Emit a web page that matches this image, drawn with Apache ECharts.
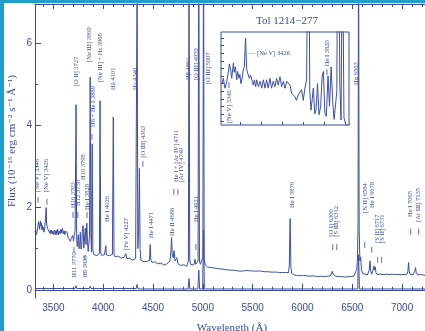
<!DOCTYPE html>
<html>
<head>
<meta charset="utf-8">
<script src="https://cdn.jsdelivr.net/npm/echarts@6/dist/echarts.min.js"></script>
<style>
html,body{margin:0;padding:0;background:#fff;}
#chart{width:425px;height:331px;}
</style>
</head>
<body>
<div id="chart"></div>
<script>
// spectrum of Tol 1214-277, [wavelength (A), flux]
var specMain = [
  [3316,1.40],[3321,1.47],[3329,1.34],[3337,1.42],[3345,1.55],[3350,1.66],[3356,1.58],[3361,1.47],
  [3369,1.67],[3373,1.55],[3378,1.62],[3385,1.45],[3389,1.56],[3396,1.47],[3400,1.52],[3405,1.40],
  [3412,1.49],[3416,1.58],[3421,1.62],[3427,2.00],[3432,1.60],[3437,1.54],[3445,1.47],[3451,1.51],
  [3459,1.43],[3464,1.38],[3469,1.45],[3475,1.36],[3480,1.45],[3488,1.36],[3496,1.43],[3504,1.34],
  [3512,1.45],[3520,1.34],[3527,1.45],[3535,1.34],[3543,1.47],[3551,1.34],[3559,1.43],[3567,1.36],
  [3575,1.47],[3583,1.38],[3591,1.49],[3599,1.36],[3607,1.43],[3615,1.34],[3623,1.43],[3631,1.41],
  [3639,1.38],[3647,1.27],[3654,1.29],[3662,1.23],[3670,1.18],[3678,1.25],[3686,1.23],[3694,1.32],
  [3702,1.18],[3710,1.34],[3718,1.45],[3727,4.50],[3733,1.30],[3739,1.05],[3745,1.20],[3750,1.34],
  [3757,1.00],[3763,1.05],[3770,1.40],[3777,0.99],[3785,1.10],[3792,1.50],[3798,1.56],[3805,1.01],
  [3812,0.97],[3820,1.50],[3827,1.10],[3835,1.62],[3842,1.18],[3849,0.93],[3855,0.95],[3862,1.30],
  [3869,5.17],[3876,1.40],[3882,0.92],[3889,3.55],[3896,0.95],[3905,0.86],[3915,0.84],[3925,0.88],
  [3935,0.83],[3945,0.86],[3955,0.84],[3962,0.88],[3968,4.60],[3975,0.90],[3982,0.84],[3992,0.87],
  [4002,0.82],[4012,0.85],[4020,0.84],[4026,1.07],[4032,0.85],[4042,0.82],[4052,0.86],[4062,0.83],
  [4072,0.85],[4082,0.81],[4092,0.86],[4101,4.20],[4108,0.86],[4118,0.80],[4128,0.83],[4138,0.79],
  [4148,0.82],[4158,0.78],[4168,0.81],[4178,0.77],[4188,0.80],[4198,0.76],[4208,0.79],[4218,0.77],
  [4227,0.88],[4235,0.76],[4245,0.78],[4255,0.74],[4265,0.77],[4275,0.73],[4285,0.76],[4295,0.72],
  [4305,0.75],[4315,0.73],[4325,0.76],[4333,0.78],[4340,7.50],[4347,1.00],[4355,1.40],[4363,2.95],
  [4370,1.00],[4378,0.72],[4388,0.69],[4398,0.72],[4408,0.68],[4418,0.70],[4428,0.66],[4438,0.69],
  [4448,0.67],[4458,0.70],[4465,0.72],[4471,1.10],[4478,0.72],[4488,0.67],[4498,0.69],[4508,0.65],
  [4518,0.68],[4528,0.64],[4538,0.67],[4548,0.63],[4558,0.66],[4568,0.62],[4578,0.65],[4588,0.61],
  [4598,0.64],[4608,0.60],[4618,0.63],[4628,0.61],[4638,0.63],[4648,0.60],[4658,0.66],[4670,0.70],
  [4680,0.95],[4686,1.27],[4693,0.85],[4702,0.78],[4711,0.95],[4720,0.70],[4732,0.68],[4740,0.78],
  [4748,0.64],[4758,0.61],[4768,0.63],[4778,0.59],[4788,0.62],[4798,0.58],[4808,0.61],[4818,0.58],
  [4828,0.60],[4838,0.57],[4848,0.60],[4855,0.70],[4861,8.00],[4868,0.75],[4876,0.62],[4886,0.60],
  [4896,0.63],[4906,0.60],[4915,0.65],[4921,0.74],[4928,0.62],[4938,0.61],[4946,0.64],[4952,0.70],
  [4959,9.00],[4966,0.70],[4975,0.62],[4985,0.63],[4995,0.66],[5000,0.80],[5007,9.00],[5013,0.75],
  [5018,0.70],[5025,0.60],[5035,0.57],[5050,0.55],[5065,0.58],[5080,0.54],[5095,0.56],[5110,0.53],
  [5125,0.56],[5140,0.52],[5155,0.55],[5170,0.51],[5185,0.54],[5200,0.50],[5215,0.53],[5230,0.49],
  [5245,0.52],[5260,0.48],[5275,0.51],[5290,0.48],[5305,0.50],[5320,0.47],[5335,0.50],[5350,0.46],
  [5365,0.49],[5380,0.45],[5395,0.48],[5410,0.46],[5425,0.43],[5440,0.47],[5455,0.44],[5470,0.46],
  [5485,0.43],[5500,0.46],[5515,0.42],[5530,0.45],[5545,0.43],[5560,0.46],[5575,0.42],[5590,0.45],
  [5605,0.42],[5620,0.44],[5635,0.41],[5650,0.44],[5665,0.41],[5680,0.43],[5695,0.40],[5710,0.43],
  [5725,0.40],[5740,0.43],[5755,0.40],[5770,0.42],[5785,0.39],[5800,0.42],[5815,0.40],[5830,0.42],
  [5845,0.39],[5860,0.42],[5868,0.60],[5876,1.73],[5884,0.55],[5892,0.40],[5905,0.38],[5920,0.36],
  [5935,0.39],[5950,0.35],[5965,0.38],[5980,0.34],[5995,0.37],[6010,0.35],[6025,0.38],[6040,0.34],
  [6055,0.36],[6070,0.33],[6085,0.37],[6100,0.34],[6115,0.36],[6130,0.33],[6145,0.36],[6160,0.32],
  [6175,0.35],[6190,0.33],[6205,0.36],[6220,0.32],[6235,0.35],[6250,0.33],[6265,0.36],[6280,0.34],
  [6292,0.38],[6300,0.45],[6306,0.38],[6312,0.42],[6320,0.35],[6335,0.33],[6350,0.36],[6365,0.32],
  [6380,0.35],[6395,0.32],[6410,0.35],[6425,0.31],[6440,0.34],[6455,0.32],[6470,0.35],[6485,0.32],
  [6500,0.34],[6515,0.33],[6530,0.36],[6545,0.50],[6552,0.75],[6558,1.60],[6563,9.00],[6569,1.50],
  [6576,0.70],[6584,0.80],[6592,0.50],[6602,0.40],[6615,0.36],[6628,0.38],[6640,0.35],[6652,0.36],
  [6662,0.38],[6670,0.48],[6678,0.70],[6686,0.45],[6695,0.38],[6706,0.40],[6712,0.50],[6717,0.58],
  [6724,0.48],[6731,0.55],[6738,0.42],[6750,0.37],[6765,0.35],[6780,0.38],[6795,0.34],[6810,0.37],
  [6825,0.35],[6840,0.38],[6855,0.34],[6870,0.37],[6885,0.35],[6900,0.38],[6915,0.34],[6930,0.37],
  [6945,0.35],[6960,0.37],[6975,0.34],[6990,0.37],[7005,0.35],[7020,0.37],[7035,0.34],[7050,0.38],
  [7058,0.45],[7065,0.66],[7072,0.44],[7082,0.37],[7095,0.35],[7110,0.37],[7122,0.38],[7128,0.45],
  [7135,0.54],[7142,0.42],[7155,0.36],[7170,0.35],[7185,0.37],[7200,0.34],[7215,0.36],[7230,0.35]
];

// same spectrum scaled down
var specScaled = [
  [3316,0.03],[3718,0.03],[3727,0.10],[3735,0.03],[3861,0.03],[3869,0.09],[3878,0.03],[3889,0.05],
  [3898,0.03],[3960,0.03],[3968,0.07],[3976,0.03],[4093,0.03],[4101,0.07],[4109,0.03],[4332,0.03],
  [4340,0.13],[4348,0.03],[4363,0.04],[4372,0.02],[4852,0.02],[4861,0.27],[4870,0.02],[4950,0.02],
  [4959,0.48],[4967,0.02],[4998,0.02],[5007,1.45],[5015,0.02],[5868,0.02],[5876,0.05],[5884,0.02],
  [6554,0.02],[6563,0.85],[6572,0.02],[7230,0.02]
];

// line identifications: [wavelength, flux at label start, text]
var lineLabels = [
  [3335,2.38,'[Ne V] 3346'],[3425,2.38,'[Ne V] 3426'],[3696,1.99,'H16 3703'],[3746,2.04,'H12 3750'],
  [3796,2.67,'H10 3798'],[3837,1.94,'He I 3820'],[3726,4.95,'[O II] 3727'],[3857,5.54,'[Ne III] 3869'],
  [3897,3.96,'H8 + He I 3889'],[3967,5.05,'[Ne III] + Hε 3968'],[4097,4.86,'Hδ 4101'],
  [4318,4.86,'Hγ 4340'],[4398,3.21,'[O III] 4363'],[4037,1.65,'He I 4026'],[4228,0.97,'[Fe V] 4227'],
  [4478,1.26,'He I 4471'],[4689,1.31,'He II 4686'],[4729,2.62,'He I + [Ar IV] 4711'],
  [4779,2.62,'[Ar IV] 4740'],[4850,5.10,'Hβ 4861'],[4930,1.65,'He I 4921'],[4930,5.10,'[O III] 4959'],
  [5050,5.00,'[O III] 5007'],[5893,1.99,'He I 5876'],[6294,1.29,'[O I] 6300'],[6344,1.29,'[S III] 6312'],
  [6545,4.98,'Hα 6563'],[6635,1.87,'[N II] 6584'],[6705,1.99,'He I 6678'],[6755,1.14,'[S II] 6717'],
  [6805,1.14,'[S II] 6731'],[7086,1.77,'He I 7065'],[7166,1.65,'[Ar III] 7135'],
  [3706,0.29,'H11 3770'],[3817,0.29,'H9 3835']
];
var lineTicks = [
  [3345,2.19],[3435,2.14],[3696,1.82],[3746,1.82],[3837,1.82],[3887,3.72],[4398,3.06],[4709,2.38],
  [4749,2.38],[4930,1.04],[6304,1.04],[6344,1.04],[6625,1.09],[6695,0.97],[6755,0.73],[6795,0.73],
  [7086,1.41],[7166,1.41],[3706,0.97],[3817,0.78]
];

// inset
var insetLabels = [[3348,0.88,'[Ne V] 3346'],[3815,1.63,'He I 3820']];
var insetTicks = [[3348,1.38],[3815,1.55]];
var insetNote = [[3443,1.80,'— [Ne V] 3426']];

var xMajor = [3500,4000,4500,5000,5500,6000,6500,7000];
var xMinor = [3400,3500,3600,3700,3800,3900,4000,4100,4200,4300,4400,4500,4600,4700,4800,4900,5000,
  5100,5200,5300,5400,5500,5600,5700,5800,5900,6000,6100,6200,6300,6400,6500,6600,6700,6800,6900,
  7000,7100,7200];
var yMajor = [0,2,4,6];
var yMinor = [1,3,5];
var insetXTicks = [3400,3500,3600,3700,3800,3900];
var insetYTicks = [0.9,1.0,1.1,1.2,1.3,1.4,1.5,1.6,1.7,1.8,1.9,2.0];

var ink = '#3c4a98';
var lineColor = '#3d4ea2';
var serif = '"Liberation Serif", "DejaVu Serif", serif';
var sans = '"Liberation Sans", Arial, sans-serif';

function vText(list) {
  return function (params, api) {
    var p = api.coord([api.value(0), api.value(1)]);
    return {
      type: 'text', x: p[0], y: p[1], rotation: Math.PI / 2,
      style: {text: list[params.dataIndex][2], fill: ink, fontSize: 6.5, fontFamily: serif,
        align: 'left', verticalAlign: 'middle'}
    };
  };
}
function hText(list) {
  return function (params, api) {
    var p = api.coord([api.value(0), api.value(1)]);
    return {
      type: 'text', x: p[0], y: p[1],
      style: {text: list[params.dataIndex][2], fill: ink, fontSize: 6.5, fontFamily: serif,
        align: 'left', verticalAlign: 'middle'}
    };
  };
}
function tickMark(params, api) {
  var p = api.coord([api.value(0), api.value(1)]);
  return {type: 'line', shape: {x1: p[0], y1: p[1] - 3, x2: p[0], y2: p[1] + 3},
    style: {stroke: ink, lineWidth: 0.8}};
}
function xy(list) { return list.map(function (d) { return [d[0], d[1]]; }); }

function xAx(grid, pos, min, max, ticks, len, showLine, labels) {
  return {
    type: 'value', gridIndex: grid, position: pos, min: min, max: max,
    axisLine: {show: showLine, lineStyle: {color: ink, width: 1}},
    axisTick: {show: true, inside: true, length: len, customValues: ticks, lineStyle: {color: ink}},
    axisLabel: labels ? {show: true, customValues: labels, color: ink, fontSize: 10, fontFamily: sans,
      margin: 5, formatter: function (v) { return String(v); }} : {show: false},
    splitLine: {show: false}
  };
}
function yAx(grid, min, max, ticks, len, showLine, labels) {
  return {
    type: 'value', gridIndex: grid, position: 'left', min: min, max: max,
    axisLine: {show: showLine, lineStyle: {color: ink, width: 1}},
    axisTick: {show: true, inside: true, length: len, customValues: ticks, lineStyle: {color: ink}},
    axisLabel: labels ? {show: true, customValues: labels, color: ink, fontSize: 10, fontFamily: sans,
      margin: 3} : {show: false},
    splitLine: {show: false}
  };
}

var chart = echarts.init(document.getElementById('chart'));
var insetData = specMain.filter(function (d) { return d[0] < 3960; });

var option = {
  animation: false,
  backgroundColor: '#fff',
  grid: [
    {left: 35, right: 0, top: 4, bottom: 33, outerBoundsMode: 'none'},
    {left: 221, top: 32, width: 128, height: 93, show: true, backgroundColor: '#fff',
      borderColor: ink, borderWidth: 1, outerBoundsMode: 'none'}
  ],
  xAxis: [
    xAx(0, 'bottom', 3315, 7230, xMajor, 6, true, xMajor),
    xAx(0, 'bottom', 3315, 7230, xMinor, 3, false, null),
    xAx(0, 'top', 3315, 7230, xMajor, 5, true, null),
    xAx(0, 'top', 3315, 7230, xMinor, 3, false, null),
    xAx(1, 'bottom', 3310, 3920, insetXTicks, 3, false, null)
  ],
  yAxis: [
    yAx(0, -0.2, 6.95, yMajor, 6, true, yMajor),
    yAx(0, -0.2, 6.95, yMinor, 3, false, null),
    yAx(1, 0.855, 2.08, insetYTicks, 3, false, null)
  ],
  graphic: [
    {type: 'rect', shape: {x: 0, y: 0, width: 4, height: 331}, style: {fill: '#1f9fca'}},
    {type: 'rect', shape: {x: 0, y: 0, width: 425, height: 3}, style: {fill: '#1f9fca'}},
    {type: 'text', x: 287, y: 21, style: {text: 'Tol 1214−277', fill: ink, fontSize: 11,
      fontFamily: serif, align: 'center', verticalAlign: 'middle'}},
    {type: 'text', x: 12, y: 141, rotation: Math.PI / 2, style: {text: 'Flux (10⁻¹⁶ erg cm⁻² s⁻¹ Å⁻¹)',
      fill: ink, fontSize: 11, fontFamily: serif, align: 'center', verticalAlign: 'middle'}},
    {type: 'text', x: 232, y: 323, style: {text: 'Wavelength (Å)', fill: ink, fontSize: 11,
      fontFamily: serif, align: 'center', verticalAlign: 'top'}}
  ],
  series: [
    {type: 'line', xAxisIndex: 0, yAxisIndex: 0, data: specMain, showSymbol: false, clip: true,
      lineStyle: {color: lineColor, width: 1}},
    {type: 'line', xAxisIndex: 0, yAxisIndex: 0, data: specScaled, showSymbol: false, clip: true,
      lineStyle: {color: lineColor, width: 1}},
    {type: 'custom', coordinateSystem: 'cartesian2d', xAxisIndex: 0, yAxisIndex: 0,
      data: xy(lineLabels), renderItem: vText(lineLabels)},
    {type: 'custom', coordinateSystem: 'cartesian2d', xAxisIndex: 0, yAxisIndex: 0,
      data: xy(lineTicks), renderItem: tickMark},
    {type: 'line', xAxisIndex: 4, yAxisIndex: 2, data: insetData, showSymbol: false, clip: true,
      lineStyle: {color: lineColor, width: 1}, z: 5},
    {type: 'custom', coordinateSystem: 'cartesian2d', xAxisIndex: 4, yAxisIndex: 2,
      data: xy(insetLabels), renderItem: vText(insetLabels), z: 6},
    {type: 'custom', coordinateSystem: 'cartesian2d', xAxisIndex: 4, yAxisIndex: 2,
      data: xy(insetTicks), renderItem: tickMark, z: 6},
    {type: 'custom', coordinateSystem: 'cartesian2d', xAxisIndex: 4, yAxisIndex: 2,
      data: xy(insetNote), renderItem: hText(insetNote), z: 6}
  ]
};
chart.setOption(option);
</script>
</body>
</html>
